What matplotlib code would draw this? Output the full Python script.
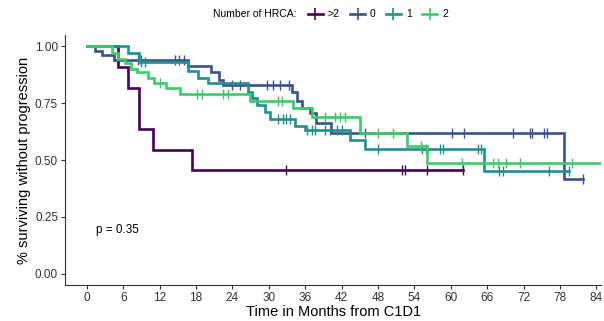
import numpy as np
import matplotlib
matplotlib.use("Agg")
from matplotlib import pyplot as plt
from matplotlib.lines import Line2D

plt.rcParams['font.family'] = ['Liberation Sans', 'DejaVu Sans']

groups = ['>2', '0', '1', '2']
colors = ['#440154', '#3B528B', '#21908C', '#3DCB6A']

# step curves: event times and survival after each step
t_gt2 = [0, 5.1, 6.8, 8.6, 10.9, 17.3]
s_gt2 = [1, 0.909, 0.818, 0.636, 0.545, 0.455]
end_gt2 = 62.0
c_gt2 = [32.8, 51.9, 52.4, 56.0, 62.0]

t_0 = [0, 1.3, 2.5, 4.5, 16.7, 20.5, 21.8, 22.5, 33.8, 34.6, 35.5, 36.8, 37.8, 40.2, 78.7]
s_0 = [1, 0.98, 0.96, 0.94, 0.915, 0.885, 0.85, 0.83, 0.80, 0.76, 0.73, 0.705, 0.665, 0.62, 0.415]
end_0 = 81.7
c_0 = [8.5, 9.0, 14.5, 15.2, 16.0, 24.0, 25.2, 29.7, 30.7, 31.8, 33.4, 45.9,
       60.2, 62.2, 70.3, 73.0, 73.3, 75.4, 75.9, 81.7]

t_1 = [0, 6.8, 8.6, 16.7, 18.3, 20.0, 26.5, 27.3, 28.0, 29.4, 30.2, 34.3, 36.0, 43.4, 45.9, 65.5]
s_1 = [1, 0.97, 0.93, 0.89, 0.86, 0.84, 0.80, 0.775, 0.74, 0.71, 0.68, 0.65, 0.63, 0.586, 0.55, 0.45]
end_1 = 79.4
c_1 = [9.0, 9.6, 31.5, 32.3, 32.8, 33.5, 36.3, 37.1, 37.6, 39.3, 40.1, 41.3, 42.1,
       48.0, 55.3, 55.9, 58.2, 58.7, 64.4, 64.9, 68.0, 68.6, 76.2, 79.4]

t_2 = [0, 4.1, 5.2, 6.3, 7.2, 8.2, 10.1, 11.0, 13.0, 15.3, 26.9, 34.0, 37.1, 45.0, 52.8, 56.0]
s_2 = [1, 0.97, 0.945, 0.925, 0.90, 0.885, 0.86, 0.84, 0.815, 0.79, 0.76, 0.727, 0.69, 0.617, 0.56, 0.485]
end_2 = 84.7
c_2 = [12.0, 18.2, 19.0, 22.5, 23.3, 31.5, 32.2, 39.3, 40.9, 41.7, 42.6, 48.0,
       50.5, 55.0, 61.9, 67.0, 67.7, 69.1, 71.4, 79.9]

curves = [(t_gt2, s_gt2, end_gt2, c_gt2), (t_0, s_0, end_0, c_0),
          (t_1, s_1, end_1, c_1), (t_2, s_2, end_2, c_2)]

xticks = np.arange(0, 85, 6)
yticks = [0, 0.25, 0.5, 0.75, 1.0]
pval = 'p = 0.35'

fig = plt.figure(figsize=(6.04, 3.21), dpi=100)
ax = fig.add_axes([0.1076, 0.112, 0.888, 0.779])

for (t, s, end, cens), col in zip(curves, colors):
    tt = list(t) + [end]
    ss = list(s) + [s[-1]]
    ax.step(tt, ss, where='post', color=col, lw=1.9, solid_joinstyle='miter')
    cens = np.array(cens)
    idx = np.searchsorted(t, cens, side='right') - 1
    ax.plot(cens, np.array(s)[idx], ls='none', marker='|', ms=7, mew=1.0, color=col)

ax.set_xlim(-3.6, 84.8)
ax.set_ylim(-0.05, 1.05)
ax.set_xticks(xticks)
ax.set_yticks(yticks)
ax.set_yticklabels(['0.00', '0.25', '0.50', '0.75', '1.00'])
for sp in ['top', 'right']:
    ax.spines[sp].set_visible(False)
for sp in ['left', 'bottom']:
    ax.spines[sp].set_color('#333333')
    ax.spines[sp].set_linewidth(0.8)
ax.tick_params(labelsize=8.5, labelcolor='#333333', color='#333333', length=3, width=0.8, pad=2)
ax.set_xlabel('Time in Months from C1D1', fontsize=10.5, labelpad=1)
ax.set_ylabel('% surviving without progression', fontsize=10.5, labelpad=3)
ax.text(1.5, 0.19, pval, fontsize=8.5, ha='left', va='center')

handles = [Line2D([0], [0], color=c, lw=1.9, marker='|', ms=8, mew=1.2) for c in colors]
fig.text(0.353, 0.955, 'Number of HRCA:', fontsize=7.5, ha='left', va='center')
fig.legend(handles, groups, loc='center left', bbox_to_anchor=(0.51, 0.955), ncol=4,
           frameon=False, fontsize=7.5, handlelength=1.4, handletextpad=0.5,
           columnspacing=1.0, borderpad=0, borderaxespad=0)

fig.savefig('out.png', dpi=100)
